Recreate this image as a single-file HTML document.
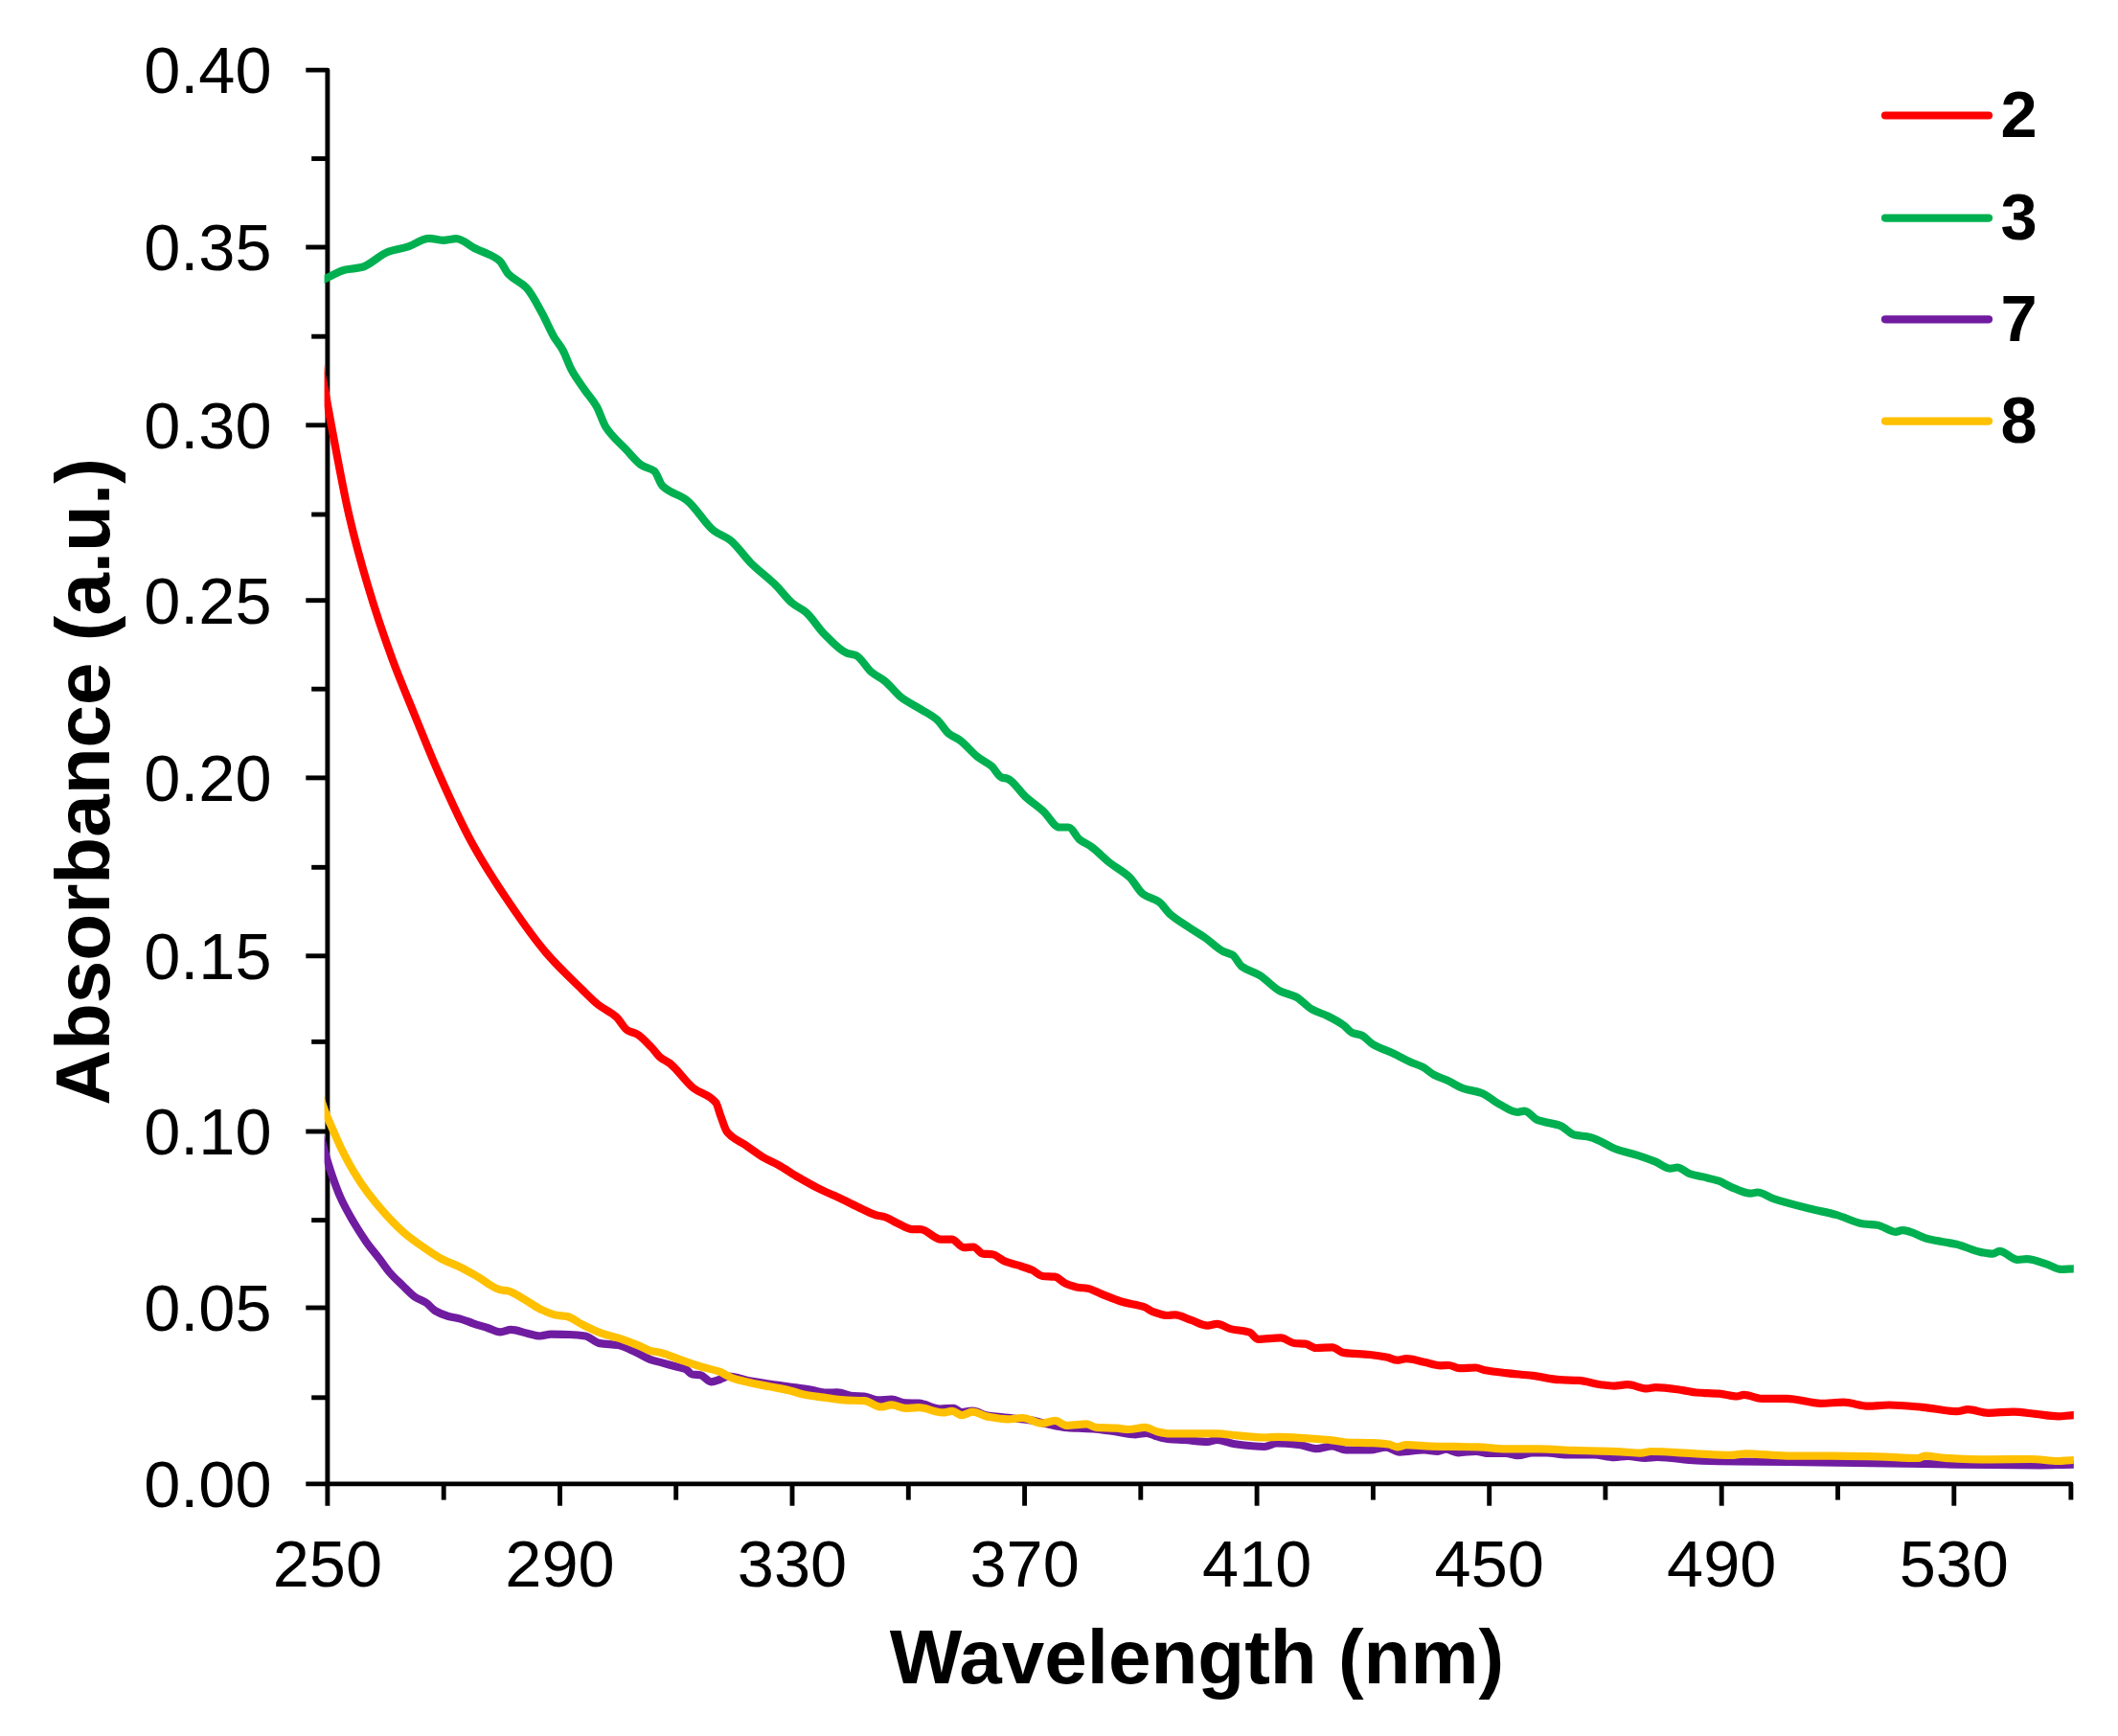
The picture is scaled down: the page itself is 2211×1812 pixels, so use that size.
<!DOCTYPE html>
<html lang="en"><head><meta charset="utf-8"><title>Absorbance vs Wavelength</title>
<style>html,body{margin:0;padding:0;background:#fff;}body{width:2211px;height:1812px;overflow:hidden;}svg{display:block;filter:blur(0.55px);}text{font-family:"Liberation Sans",sans-serif;fill:#000;}.tk{font-size:68.5px;}.ttl{font-size:80px;font-weight:bold;}.lg{font-size:68.5px;font-weight:bold;}</style></head><body>
<svg width="2211" height="1812" viewBox="0 0 2211 1812">
<rect x="0" y="0" width="2211" height="1812" fill="#ffffff"/>
<defs><clipPath id="plot"><rect x="338.6" y="40" width="1826.2" height="1540"/></clipPath></defs>
<g stroke="#000" stroke-width="4.9" fill="none" stroke-linecap="butt" stroke-linejoin="round">
<path d="M319.3 73.1 L341.9 73.1 L341.9 1571.7"/>
<path d="M319.3 1548.9 L2161.9 1548.9 L2161.9 1565.6"/>
<path d="M325.2 165.6 H341.9"/>
<path d="M319.3 258.0 H341.9"/>
<path d="M325.2 351.2 H341.9"/>
<path d="M319.3 443.8 H341.9"/>
<path d="M325.2 537.0 H341.9"/>
<path d="M319.3 626.7 H341.9"/>
<path d="M325.2 719.2 H341.9"/>
<path d="M319.3 811.9 H341.9"/>
<path d="M325.2 905.3 H341.9"/>
<path d="M319.3 997.8 H341.9"/>
<path d="M325.2 1087.4 H341.9"/>
<path d="M319.3 1181.0 H341.9"/>
<path d="M325.2 1273.6 H341.9"/>
<path d="M319.3 1365.0 H341.9"/>
<path d="M325.2 1458.8 H341.9"/>
<path d="M463.2 1548.9 V1565.6"/>
<path d="M584.5 1548.9 V1571.7"/>
<path d="M705.7 1548.9 V1565.6"/>
<path d="M827.0 1548.9 V1571.7"/>
<path d="M948.3 1548.9 V1565.6"/>
<path d="M1069.6 1548.9 V1571.7"/>
<path d="M1190.8 1548.9 V1565.6"/>
<path d="M1312.1 1548.9 V1571.7"/>
<path d="M1433.4 1548.9 V1565.6"/>
<path d="M1554.7 1548.9 V1571.7"/>
<path d="M1675.9 1548.9 V1565.6"/>
<path d="M1797.2 1548.9 V1571.7"/>
<path d="M1918.5 1548.9 V1565.6"/>
<path d="M2039.8 1548.9 V1571.7"/>
</g>
<g clip-path="url(#plot)" fill="none" stroke-width="8.2" stroke-linejoin="round" stroke-linecap="butt">
<path stroke="#ff0000" d="M328.0 350.0C330.0 360.3 332.0 370.7 334.0 381.0C335.9 390.7 337.8 400.0 339.7 410.0C341.8 421.2 344.0 433.7 346.1 445.0C352.1 477.0 358.2 510.9 364.2 537.0C370.8 565.7 377.5 589.5 384.1 611.7C392.5 640.0 401.0 664.7 409.4 687.7C417.0 708.4 424.6 726.0 432.2 744.7C440.6 765.3 448.9 786.6 457.3 805.5C469.0 832.0 480.8 858.1 492.5 879.5C505.8 903.7 519.0 923.8 532.3 943.3C544.9 961.8 557.5 979.8 570.1 994.5C582.7 1009.1 595.2 1020.8 607.8 1033.0C613.3 1038.4 618.9 1044.2 624.4 1048.6C630.7 1053.6 637.0 1055.8 643.3 1061.4C647.2 1064.9 651.2 1073.3 655.1 1075.5C658.2 1077.3 661.4 1077.5 664.5 1079.1C669.7 1081.8 674.8 1087.9 680.0 1093.1C683.1 1096.3 686.3 1101.2 689.4 1103.7C692.6 1106.2 695.7 1107.2 698.9 1109.6C707.2 1115.8 715.4 1129.0 723.7 1135.6C731.6 1141.9 739.4 1141.3 747.3 1150.9C748.9 1152.8 750.4 1159.8 752.0 1163.9C754.4 1170.1 756.7 1178.7 759.1 1181.6C765.8 1189.7 772.5 1191.1 779.2 1195.8C785.5 1200.2 791.8 1205.2 798.1 1208.8C802.8 1211.5 807.6 1213.3 812.3 1215.9C819.4 1219.8 826.4 1224.8 833.5 1228.9C840.6 1233.0 847.7 1237.1 854.8 1240.7C862.7 1244.6 870.5 1247.8 878.4 1251.5C885.6 1254.9 892.8 1258.6 900.0 1261.9C904.7 1264.1 909.5 1266.8 914.2 1268.2C917.5 1269.2 920.8 1269.4 924.1 1270.4C928.3 1271.7 932.6 1274.8 936.8 1276.7C942.0 1279.0 947.2 1283.1 952.4 1283.1C955.2 1283.1 958.1 1283.1 960.9 1283.1C968.0 1283.1 975.1 1293.7 982.2 1293.7C986.0 1293.7 989.7 1293.7 993.5 1293.7C997.7 1293.7 1002.0 1302.2 1006.2 1302.2C1009.5 1302.2 1012.8 1301.5 1016.1 1301.5C1019.4 1301.5 1022.8 1308.2 1026.1 1308.6C1029.4 1309.0 1032.7 1308.9 1036.0 1309.3C1040.2 1309.8 1044.5 1314.7 1048.7 1316.4C1053.4 1318.3 1058.2 1319.2 1062.9 1320.7C1067.6 1322.2 1072.4 1323.6 1077.1 1325.6C1080.9 1327.2 1084.6 1331.6 1088.4 1332.0C1092.6 1332.4 1096.9 1332.3 1101.1 1332.7C1104.9 1333.1 1108.7 1338.2 1112.5 1339.8C1117.2 1341.7 1121.9 1343.4 1126.6 1344.0C1129.4 1344.3 1132.3 1344.3 1135.1 1344.7C1139.8 1345.3 1144.6 1348.5 1149.3 1350.4C1156.6 1353.3 1164.0 1356.6 1171.3 1358.8C1179.3 1361.2 1187.3 1361.6 1195.3 1364.5C1197.7 1365.4 1200.0 1367.8 1202.4 1368.7C1208.1 1370.8 1213.7 1373.0 1219.4 1373.0C1221.8 1373.0 1224.1 1372.3 1226.5 1372.3C1232.2 1372.3 1237.8 1376.0 1243.5 1377.9C1249.2 1379.8 1254.8 1383.6 1260.5 1383.6C1263.8 1383.6 1267.1 1381.9 1270.4 1381.9C1275.1 1381.9 1279.9 1385.9 1284.6 1387.1C1291.2 1388.7 1297.9 1388.5 1304.5 1390.7C1307.3 1391.6 1310.2 1397.8 1313.0 1397.8C1321.0 1397.8 1329.0 1396.4 1337.0 1396.4C1341.7 1396.4 1346.5 1401.5 1351.2 1402.0C1355.0 1402.4 1358.8 1402.3 1362.6 1402.7C1366.4 1403.1 1370.1 1407.0 1373.9 1407.0C1379.6 1407.0 1385.2 1406.3 1390.9 1406.3C1394.7 1406.3 1398.4 1411.3 1402.2 1411.9C1411.5 1413.3 1420.7 1413.0 1430.0 1414.0C1436.1 1414.6 1442.3 1415.5 1448.4 1416.8C1451.7 1417.5 1455.0 1419.7 1458.3 1419.7C1461.6 1419.7 1464.9 1418.2 1468.2 1418.2C1474.4 1418.2 1480.5 1420.6 1486.7 1421.8C1492.4 1422.9 1498.0 1425.3 1503.7 1425.3C1506.5 1425.3 1509.4 1425.0 1512.2 1425.0C1516.0 1425.0 1519.7 1428.2 1523.5 1428.2C1529.2 1428.2 1534.8 1427.5 1540.5 1427.5C1543.8 1427.5 1547.1 1429.7 1550.4 1430.3C1557.5 1431.6 1564.5 1432.3 1571.6 1433.1C1581.1 1434.2 1590.5 1434.8 1600.0 1435.9C1609.4 1437.0 1618.9 1439.7 1628.3 1440.2C1634.9 1440.6 1641.5 1440.5 1648.1 1440.9C1655.7 1441.3 1663.2 1444.2 1670.8 1445.2C1675.5 1445.8 1680.3 1446.6 1685.0 1446.6C1689.7 1446.6 1694.4 1445.2 1699.1 1445.2C1705.7 1445.2 1712.4 1449.4 1719.0 1449.4C1722.1 1449.4 1725.2 1448.1 1728.3 1448.1C1737.8 1448.1 1747.2 1449.8 1756.7 1451.1C1761.4 1451.7 1766.2 1453.1 1770.9 1453.5C1778.8 1454.1 1786.6 1454.1 1794.5 1454.7C1800.8 1455.2 1807.1 1457.5 1813.4 1457.5C1815.8 1457.5 1818.1 1455.9 1820.5 1455.9C1826.8 1455.9 1833.0 1459.9 1839.3 1459.9C1848.0 1459.9 1856.6 1459.9 1865.3 1459.9C1877.1 1459.9 1889.0 1464.8 1900.8 1464.8C1908.7 1464.8 1916.5 1463.7 1924.4 1463.7C1933.1 1463.7 1941.7 1467.7 1950.4 1467.7C1957.5 1467.7 1964.5 1466.5 1971.6 1466.5C1983.4 1466.5 1995.2 1467.8 2007.0 1468.8C2018.8 1469.8 2030.7 1473.1 2042.5 1473.1C2046.4 1473.1 2050.4 1471.2 2054.3 1471.2C2061.4 1471.2 2068.4 1474.8 2075.5 1474.8C2084.2 1474.8 2092.8 1473.6 2101.5 1473.6C2109.4 1473.6 2117.2 1475.1 2125.1 1475.9C2133.0 1476.7 2140.8 1478.3 2148.7 1478.3C2154.1 1478.3 2159.4 1477.1 2164.8 1477.1C2169.9 1477.1 2174.9 1477.7 2180.0 1478.0"/>
<path stroke="#00b050" d="M325.0 297.0C329.8 295.0 334.6 293.0 339.4 290.9C346.5 287.8 353.6 283.0 360.7 281.5C366.2 280.3 371.7 280.3 377.2 279.1C386.7 277.0 396.1 265.8 405.6 262.6C411.9 260.5 418.2 259.8 424.5 257.9C432.4 255.6 440.2 248.9 448.1 248.9C452.8 248.9 457.6 250.8 462.3 250.8C467.0 250.8 471.7 249.1 476.4 249.1C482.7 249.1 489.0 255.8 495.3 259.0C504.0 263.4 512.6 265.0 521.3 272.0C524.5 274.6 527.6 282.9 530.8 286.2C537.1 292.7 543.3 293.9 549.6 300.4C555.1 306.2 560.7 317.5 566.2 327.5C570.1 334.6 574.1 344.5 578.0 351.2C581.1 356.6 584.3 359.7 587.4 365.3C590.6 371.0 593.7 380.8 596.9 386.6C601.6 395.2 606.3 401.0 611.0 407.8C615.0 413.5 618.9 417.5 622.9 424.4C626.0 429.9 629.2 440.7 632.3 445.6C639.4 456.6 646.5 461.7 653.6 469.2C659.1 475.0 664.6 482.4 670.1 485.8C674.4 488.5 678.8 488.4 683.1 491.7C685.9 493.8 688.6 504.3 691.4 507.0C700.0 515.5 708.7 515.7 717.3 522.4C726.8 529.7 736.2 547.3 745.7 554.3C751.2 558.3 756.7 559.6 762.2 563.7C769.3 569.0 776.4 580.2 783.5 587.3C792.3 596.1 801.2 602.3 810.0 611.0C815.7 616.7 821.5 625.0 827.2 629.7C831.9 633.6 836.7 635.1 841.4 639.1C847.7 644.4 854.0 655.3 860.3 661.6C868.2 669.4 876.0 678.8 883.9 681.6C887.1 682.7 890.2 682.8 893.4 684.0C898.9 686.1 904.4 697.2 909.9 701.7C914.6 705.6 919.4 707.4 924.1 711.2C929.6 715.6 935.1 723.5 940.6 727.7C947.7 733.1 954.8 736.3 961.9 740.7C967.4 744.1 972.9 746.6 978.4 751.3C982.3 754.7 986.3 762.3 990.2 765.5C994.1 768.7 998.1 769.8 1002.0 772.6C1008.3 777.1 1014.6 785.5 1020.9 790.3C1025.6 793.9 1030.4 795.7 1035.1 799.7C1038.6 802.7 1042.2 810.4 1045.7 811.5C1047.7 812.1 1049.6 812.1 1051.6 812.7C1057.9 814.6 1064.2 825.9 1070.5 831.6C1076.8 837.3 1083.1 841.3 1089.4 847.0C1094.9 852.0 1100.4 863.5 1105.9 863.5C1109.1 863.5 1112.2 863.5 1115.4 863.5C1119.3 863.5 1123.3 873.4 1127.2 876.5C1131.1 879.6 1135.1 880.8 1139.0 883.6C1145.3 888.0 1151.6 895.1 1157.9 900.1C1165.0 905.7 1172.0 908.9 1179.1 915.5C1183.8 919.9 1188.6 929.8 1193.3 933.2C1198.8 937.2 1204.4 937.5 1209.9 941.4C1213.8 944.1 1217.8 951.0 1221.7 954.4C1228.4 960.2 1235.1 963.9 1241.8 968.4C1247.3 972.1 1252.8 975.2 1258.3 979.0C1264.6 983.4 1270.9 990.1 1277.2 993.2C1280.4 994.7 1283.5 995.0 1286.7 996.8C1289.8 998.6 1293.0 1006.3 1296.1 1008.6C1302.4 1013.3 1308.7 1014.2 1315.0 1018.0C1322.1 1022.3 1329.2 1031.0 1336.3 1034.5C1341.8 1037.2 1347.3 1037.8 1352.8 1040.5C1358.3 1043.2 1363.8 1050.4 1369.3 1053.4C1374.8 1056.5 1380.4 1057.8 1385.9 1060.5C1391.4 1063.2 1396.9 1066.1 1402.4 1070.0C1405.6 1072.2 1408.7 1077.0 1411.9 1078.2C1415.0 1079.4 1418.2 1079.4 1421.3 1080.6C1425.2 1082.1 1429.2 1087.7 1433.1 1090.0C1440.2 1094.2 1447.3 1096.2 1454.4 1099.5C1460.7 1102.5 1467.0 1106.1 1473.3 1108.9C1477.2 1110.6 1481.2 1111.7 1485.1 1113.7C1489.0 1115.7 1493.0 1119.8 1496.9 1121.9C1501.6 1124.4 1506.4 1125.7 1511.1 1127.8C1516.6 1130.3 1522.1 1134.3 1527.6 1136.1C1533.9 1138.2 1540.2 1138.6 1546.5 1140.8C1552.8 1143.0 1559.1 1149.4 1565.4 1152.6C1571.7 1155.8 1578.0 1160.9 1584.3 1160.9C1586.7 1160.9 1589.0 1159.7 1591.4 1159.7C1596.1 1159.7 1600.8 1167.4 1605.5 1169.2C1613.4 1172.2 1621.2 1172.1 1629.1 1175.1C1633.8 1176.9 1638.6 1183.4 1643.3 1184.5C1648.8 1185.8 1654.4 1185.7 1659.9 1186.9C1669.3 1188.9 1678.8 1196.7 1688.2 1199.9C1695.3 1202.3 1702.3 1203.6 1709.4 1205.8C1715.7 1207.8 1722.0 1210.0 1728.3 1212.6C1733.4 1214.7 1738.6 1219.7 1743.7 1219.7C1746.1 1219.7 1748.4 1218.5 1750.8 1218.5C1755.1 1218.5 1759.5 1223.7 1763.8 1225.1C1768.5 1226.6 1773.2 1227.2 1777.9 1228.4C1783.4 1229.8 1789.0 1230.8 1794.5 1232.7C1798.4 1234.1 1802.4 1237.0 1806.3 1238.6C1813.4 1241.5 1820.4 1245.7 1827.5 1245.7C1829.9 1245.7 1832.2 1244.5 1834.6 1244.5C1840.1 1244.5 1845.7 1249.3 1851.2 1251.1C1863.8 1255.3 1876.3 1258.3 1888.9 1261.5C1898.4 1263.9 1907.8 1265.5 1917.3 1268.1C1926.7 1270.7 1936.2 1276.3 1945.6 1277.5C1950.3 1278.1 1955.1 1278.1 1959.8 1278.7C1966.1 1279.5 1972.4 1285.8 1978.7 1285.8C1981.1 1285.8 1983.4 1284.2 1985.8 1284.2C1995.2 1284.2 2004.7 1291.4 2014.1 1293.6C2023.6 1295.8 2033.0 1296.6 2042.5 1298.8C2051.1 1300.8 2059.8 1305.5 2068.4 1307.1C2072.4 1307.8 2076.3 1308.7 2080.3 1308.7C2082.6 1308.7 2085.0 1305.9 2087.3 1305.9C2093.6 1305.9 2099.9 1314.9 2106.2 1314.9C2109.4 1314.9 2112.5 1314.1 2115.7 1314.1C2122.8 1314.1 2129.8 1317.4 2136.9 1319.6C2141.6 1321.1 2146.4 1324.8 2151.1 1324.8C2155.7 1324.8 2160.2 1324.3 2164.8 1324.3C2169.9 1324.3 2174.9 1326.1 2180.0 1327.0"/>
<path stroke="#701ca0" d="M325.0 1148.0C329.5 1165.3 334.0 1183.9 338.5 1200.0C340.5 1207.3 342.6 1214.5 344.6 1220.7C348.4 1232.1 352.1 1242.6 355.9 1250.9C360.3 1260.6 364.7 1268.0 369.1 1275.5C373.5 1283.0 378.0 1290.0 382.4 1296.3C386.8 1302.5 391.2 1307.5 395.6 1313.3C399.4 1318.2 403.1 1324.1 406.9 1328.4C411.3 1333.5 415.7 1337.4 420.1 1341.6C424.5 1345.9 429.0 1351.0 433.4 1353.9C437.2 1356.3 440.9 1357.2 444.7 1359.6C447.9 1361.7 451.0 1366.2 454.2 1368.1C458.6 1370.7 463.0 1372.4 467.4 1373.7C471.8 1375.0 476.2 1375.4 480.6 1376.6C485.0 1377.8 489.4 1379.8 493.8 1381.3C498.8 1383.0 503.9 1384.4 508.9 1386.0C513.3 1387.4 517.8 1390.4 522.2 1390.4C526.0 1390.4 529.7 1387.9 533.5 1387.9C539.2 1387.9 544.8 1390.5 550.5 1391.7C554.9 1392.7 559.3 1394.5 563.7 1394.5C567.5 1394.5 571.3 1392.6 575.1 1392.6C581.4 1392.6 587.7 1392.8 594.0 1393.0C599.7 1393.2 605.3 1393.6 611.0 1394.5C616.0 1395.3 621.1 1401.2 626.1 1402.1C632.4 1403.2 638.7 1403.0 645.0 1404.0C651.3 1405.0 657.6 1408.7 663.9 1411.5C668.9 1413.7 674.0 1417.3 679.0 1419.1C683.0 1420.5 687.0 1421.3 691.0 1422.4C695.4 1423.6 699.8 1424.8 704.2 1426.0C708.0 1427.0 711.7 1427.4 715.5 1428.9C717.9 1429.9 720.2 1434.1 722.6 1434.5C725.4 1434.9 728.3 1434.8 731.1 1435.2C734.9 1435.7 738.6 1442.3 742.4 1442.3C745.7 1442.3 749.0 1440.5 752.3 1439.5C755.1 1438.6 758.0 1436.7 760.8 1436.7C767.9 1436.7 775.0 1440.0 782.1 1441.3C791.5 1443.0 801.0 1444.3 810.4 1445.6C815.6 1446.3 820.8 1447.0 826.0 1447.7C832.6 1448.6 839.2 1449.4 845.8 1450.5C851.5 1451.4 857.1 1453.7 862.8 1453.7C866.6 1453.7 870.3 1453.4 874.1 1453.4C879.8 1453.4 885.4 1456.9 891.1 1457.2C894.9 1457.4 898.7 1457.4 902.5 1457.6C907.2 1457.9 911.9 1461.4 916.6 1461.4C921.3 1461.4 926.1 1460.7 930.8 1460.7C935.5 1460.7 940.3 1464.1 945.0 1464.3C949.7 1464.5 954.4 1464.5 959.1 1464.7C966.5 1465.1 973.8 1470.5 981.2 1470.5C985.9 1470.5 990.7 1469.8 995.4 1469.8C998.2 1469.8 1001.1 1474.1 1003.9 1474.1C1007.7 1474.1 1011.4 1472.7 1015.2 1472.7C1020.4 1472.7 1025.6 1476.8 1030.8 1477.6C1035.5 1478.3 1040.3 1478.5 1045.0 1479.0C1051.1 1479.6 1057.3 1480.3 1063.4 1481.0C1067.6 1481.5 1071.9 1481.8 1076.1 1482.4C1081.3 1483.2 1086.5 1484.9 1091.7 1486.0C1099.3 1487.6 1106.8 1489.7 1114.4 1490.2C1119.6 1490.6 1124.8 1490.7 1130.0 1490.9C1134.7 1491.1 1139.4 1491.3 1144.1 1491.6C1151.2 1492.1 1158.3 1493.5 1165.4 1494.5C1172.1 1495.4 1178.7 1497.3 1185.4 1497.3C1189.2 1497.3 1193.0 1495.8 1196.8 1495.8C1200.5 1495.8 1204.2 1498.4 1207.9 1499.4C1212.2 1500.5 1216.6 1501.8 1220.9 1502.2C1226.0 1502.6 1231.1 1502.7 1236.2 1503.0C1244.3 1503.5 1252.4 1505.0 1260.5 1505.0C1263.8 1505.0 1267.1 1502.9 1270.4 1502.9C1276.6 1502.9 1282.7 1506.4 1288.9 1507.2C1299.3 1508.6 1309.6 1510.0 1320.0 1510.0C1324.3 1510.0 1328.5 1506.5 1332.8 1506.5C1340.4 1506.5 1347.9 1507.2 1355.5 1507.9C1361.6 1508.5 1367.8 1512.1 1373.9 1512.1C1379.6 1512.1 1385.2 1509.3 1390.9 1509.3C1395.6 1509.3 1400.4 1513.5 1405.1 1513.5C1413.4 1513.5 1421.7 1513.5 1430.0 1513.4C1435.7 1513.4 1441.3 1510.6 1447.0 1510.6C1451.7 1510.6 1456.5 1515.6 1461.2 1515.6C1469.7 1515.6 1478.2 1513.4 1486.7 1513.4C1491.4 1513.4 1496.1 1514.8 1500.8 1514.8C1503.6 1514.8 1506.5 1512.7 1509.3 1512.7C1513.6 1512.7 1517.8 1516.3 1522.1 1516.3C1528.2 1516.3 1534.4 1514.8 1540.5 1514.8C1545.2 1514.8 1549.9 1517.0 1554.6 1517.0C1560.3 1517.0 1565.9 1517.0 1571.6 1517.0C1575.9 1517.0 1580.1 1519.1 1584.4 1519.1C1589.6 1519.1 1594.8 1516.3 1600.0 1516.3C1604.7 1516.3 1609.4 1516.3 1614.1 1516.3C1621.2 1516.3 1628.3 1518.4 1635.4 1518.4C1644.8 1518.4 1654.3 1518.4 1663.7 1518.4C1670.8 1518.4 1677.9 1521.2 1685.0 1521.2C1689.7 1521.2 1694.4 1519.8 1699.1 1519.8C1705.2 1519.8 1711.4 1521.9 1717.5 1521.9C1721.7 1521.9 1725.8 1521.0 1730.0 1521.0C1743.6 1521.0 1757.3 1524.0 1770.9 1524.5C1785.1 1525.0 1799.2 1525.3 1813.4 1525.5C1830.7 1525.7 1848.0 1525.8 1865.3 1526.0C1888.9 1526.3 1912.6 1526.7 1936.2 1527.0C1959.8 1527.3 1983.4 1527.7 2007.0 1528.0C2030.6 1528.3 2054.3 1528.8 2077.9 1529.0C2095.3 1529.1 2112.6 1529.3 2130.0 1529.3C2141.6 1529.3 2153.2 1528.6 2164.8 1528.6C2169.9 1528.6 2174.9 1528.6 2180.0 1528.6"/>
<path stroke="#ffc000" d="M325.0 1115.0C327.9 1124.3 330.8 1133.9 333.7 1143.0C335.3 1148.1 337.0 1153.6 338.6 1158.0C341.8 1166.8 345.1 1173.6 348.3 1181.0C351.5 1188.2 354.6 1195.5 357.8 1201.8C361.6 1209.4 365.3 1216.3 369.1 1222.6C374.1 1231.0 379.2 1238.6 384.2 1245.3C390.5 1253.7 396.8 1261.0 403.1 1267.9C409.4 1274.8 415.7 1281.4 422.0 1286.8C428.3 1292.2 434.6 1296.6 440.9 1301.0C447.2 1305.4 453.5 1309.9 459.8 1313.3C466.7 1317.0 473.7 1319.3 480.6 1322.7C486.9 1325.8 493.2 1329.5 499.5 1333.1C507.1 1337.4 514.6 1344.8 522.2 1346.3C524.7 1346.8 527.2 1346.8 529.7 1347.3C535.4 1348.4 541.0 1352.7 546.7 1355.8C552.4 1358.9 558.0 1363.5 563.7 1366.2C569.4 1368.9 575.0 1371.8 580.7 1372.8C584.5 1373.4 588.3 1373.4 592.1 1374.1C597.1 1375.0 602.2 1379.7 607.2 1382.2C614.1 1385.6 621.1 1389.2 628.0 1391.7C635.6 1394.4 643.1 1395.8 650.7 1398.3C656.4 1400.2 662.0 1402.5 667.7 1404.9C671.5 1406.5 675.2 1409.1 679.0 1410.0C682.7 1410.9 686.3 1411.1 690.0 1411.9C697.1 1413.5 704.1 1417.2 711.2 1419.7C718.3 1422.2 725.4 1424.6 732.5 1426.7C738.6 1428.5 744.8 1429.5 750.9 1431.7C755.2 1433.2 759.4 1436.6 763.7 1438.1C769.8 1440.3 776.0 1441.6 782.1 1443.0C789.2 1444.6 796.2 1445.9 803.3 1447.3C810.4 1448.7 817.5 1449.8 824.6 1451.5C829.8 1452.7 834.9 1454.8 840.1 1455.8C846.7 1457.1 853.4 1457.7 860.0 1458.6C867.1 1459.6 874.1 1461.0 881.2 1461.4C888.3 1461.8 895.4 1461.7 902.5 1462.2C908.2 1462.6 913.8 1468.5 919.5 1468.5C923.3 1468.5 927.0 1466.4 930.8 1466.4C935.5 1466.4 940.3 1469.9 945.0 1469.9C949.7 1469.9 954.4 1469.2 959.1 1469.2C967.4 1469.2 975.8 1474.4 984.1 1474.4C987.4 1474.4 990.7 1472.9 994.0 1472.9C997.3 1472.9 1000.6 1477.2 1003.9 1477.2C1007.7 1477.2 1011.4 1473.7 1015.2 1473.7C1020.4 1473.7 1025.6 1477.6 1030.8 1478.6C1037.9 1479.9 1045.0 1481.4 1052.1 1481.4C1057.3 1481.4 1062.4 1480.0 1067.6 1480.0C1074.2 1480.0 1080.9 1485.7 1087.5 1485.7C1092.2 1485.7 1096.9 1482.9 1101.6 1482.9C1105.4 1482.9 1109.2 1487.8 1113.0 1487.8C1120.1 1487.8 1127.1 1486.4 1134.2 1486.4C1137.5 1486.4 1140.8 1489.7 1144.1 1489.9C1151.2 1490.4 1158.3 1490.3 1165.4 1490.7C1169.7 1490.9 1174.0 1492.0 1178.3 1492.0C1184.0 1492.0 1189.6 1489.9 1195.3 1489.9C1199.5 1489.9 1203.7 1493.3 1207.9 1494.2C1212.2 1495.2 1216.6 1496.3 1220.9 1496.3C1230.3 1496.3 1239.8 1496.3 1249.2 1496.3C1256.3 1496.3 1263.3 1496.3 1270.4 1496.3C1277.5 1496.3 1284.6 1497.8 1291.7 1498.4C1301.1 1499.2 1310.6 1500.5 1320.0 1500.5C1324.7 1500.5 1329.5 1499.8 1334.2 1499.8C1343.7 1499.8 1353.1 1500.6 1362.6 1501.2C1372.0 1501.8 1381.5 1502.3 1390.9 1503.3C1395.6 1503.8 1400.4 1505.3 1405.1 1505.5C1414.5 1505.9 1424.0 1505.8 1433.4 1506.2C1438.9 1506.4 1444.3 1506.8 1449.8 1507.5C1452.6 1507.9 1455.5 1510.3 1458.3 1510.3C1461.6 1510.3 1464.9 1508.2 1468.2 1508.2C1476.7 1508.2 1485.2 1509.4 1493.7 1509.6C1510.2 1510.0 1526.8 1509.9 1543.3 1510.3C1552.7 1510.5 1562.2 1512.4 1571.6 1512.4C1583.4 1512.4 1595.3 1512.4 1607.1 1512.4C1618.9 1512.4 1630.7 1513.5 1642.5 1513.9C1651.9 1514.2 1661.4 1514.3 1670.8 1514.6C1677.9 1514.8 1684.9 1515.0 1692.0 1515.3C1699.1 1515.6 1706.2 1516.7 1713.3 1516.7C1716.7 1516.7 1720.2 1515.0 1723.6 1515.0C1739.4 1515.0 1755.1 1516.6 1770.9 1517.3C1782.7 1517.9 1794.5 1518.9 1806.3 1518.9C1811.8 1518.9 1817.3 1517.3 1822.8 1517.3C1837.0 1517.3 1851.1 1519.6 1865.3 1519.6C1881.1 1519.6 1896.8 1519.6 1912.6 1519.6C1928.3 1519.6 1944.1 1520.0 1959.8 1520.3C1974.0 1520.6 1988.1 1522.0 2002.3 1522.0C2004.7 1522.0 2007.0 1519.6 2009.4 1519.6C2016.5 1519.6 2023.6 1521.4 2030.7 1521.8C2046.4 1522.7 2062.2 1523.4 2077.9 1523.4C2092.1 1523.4 2106.2 1523.0 2120.4 1523.0C2129.8 1523.0 2139.3 1525.0 2148.7 1525.0C2154.1 1525.0 2159.4 1524.0 2164.8 1524.0C2169.9 1524.0 2174.9 1524.0 2180.0 1524.0"/>
</g>
<g class="tk" text-anchor="end">
<text x="283.5" y="97.1">0.40</text>
<text x="283.5" y="282.0">0.35</text>
<text x="283.5" y="467.8">0.30</text>
<text x="283.5" y="650.7">0.25</text>
<text x="283.5" y="835.9">0.20</text>
<text x="283.5" y="1021.8">0.15</text>
<text x="283.5" y="1205.0">0.10</text>
<text x="283.5" y="1389.0">0.05</text>
<text x="283.5" y="1572.9">0.00</text>
</g>
<g class="tk" text-anchor="middle">
<text x="341.9" y="1655.5">250</text>
<text x="584.5" y="1655.5">290</text>
<text x="827.0" y="1655.5">330</text>
<text x="1069.6" y="1655.5">370</text>
<text x="1312.1" y="1655.5">410</text>
<text x="1554.7" y="1655.5">450</text>
<text x="1797.2" y="1655.5">490</text>
<text x="2039.8" y="1655.5">530</text>
</g>
<text class="ttl" text-anchor="middle" x="1249.5" y="1757">Wavelength (nm)</text>
<text class="ttl" text-anchor="middle" transform="translate(114 816) rotate(-90)">Absorbance (a.u.)</text>
<g stroke-width="8.2" stroke-linecap="round">
<line x1="1968" y1="120.5" x2="2076" y2="120.5" stroke="#ff0000"/>
<line x1="1968" y1="227.6" x2="2076" y2="227.6" stroke="#00b050"/>
<line x1="1968" y1="333.3" x2="2076" y2="333.3" stroke="#701ca0"/>
<line x1="1968" y1="439.6" x2="2076" y2="439.6" stroke="#ffc000"/>
</g>
<g class="lg">
<text x="2088.5" y="143.3">2</text>
<text x="2088.5" y="250.4">3</text>
<text x="2088.5" y="356.1">7</text>
<text x="2088.5" y="462.4">8</text>
</g>
</svg></body></html>
